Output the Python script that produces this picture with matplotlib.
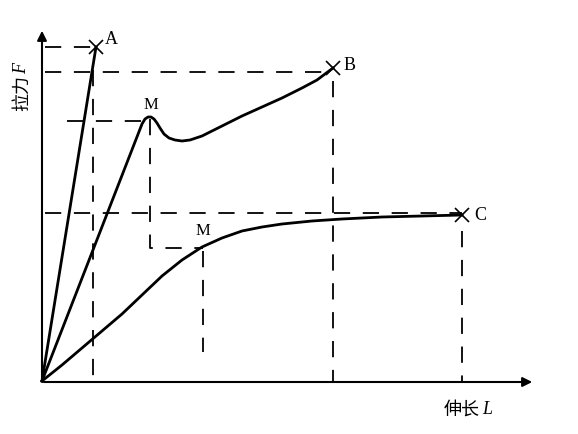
import matplotlib
matplotlib.use("Agg")
import matplotlib.pyplot as plt

# coordinates: x = elongation, y = force (origin at lower-left corner of the axes)
ox, oy = 42, 381

# curve A (brittle): straight line to fracture point
a_x = [0, 54]
a_y = [0, 334]

# curve B: linear rise, yield hump at M, then hardening to fracture at B
b_x = [0, 100, 103, 106, 109, 112, 115, 118, 122, 127, 133, 140, 148, 160, 180, 200,
       220, 240, 260, 275, 291]
b_y = [0, 257, 262, 264, 264, 262, 258, 253, 247, 243, 241, 240, 241, 245, 255, 265,
       274, 283, 293, 301, 313]

# curve C: slow rise, bend at M, flat to fracture at C
c_x = [0, 20, 40, 60, 80, 100, 120, 140, 160, 180, 200, 220, 240, 270, 300, 340, 380, 420]
c_y = [0, 16, 33, 50, 67, 86, 105, 121, 134, 143, 150, 154, 157, 160, 162, 164, 165, 166]

fig = plt.figure(figsize=(5.78, 4.34), dpi=100)
ax = fig.add_axes([0, 0, 1, 1])
ax.set_xlim(-ox, 578 - ox)
ax.set_ylim(-(434 - oy), oy)
ax.axis("off")

dash = dict(color="black", lw=1.3, dashes=(9, 7))

# guide lines
ax.plot([3, 54], [334, 334], **dash)
ax.plot([3, 291], [309, 309], **dash)
ax.plot([25, 108], [260, 260], **dash)
ax.plot([3, 420], [168, 168], **dash)
ax.plot([51, 51], [311, 0], **dash)
ax.plot([108, 108, 161], [262, 133, 133], **dash)
ax.plot([161, 161], [130, 29], **dash)
ax.plot([291, 291], [300, 0], **dash)
ax.plot([420, 420], [150, 0], **dash)

# axes with arrows
ax.annotate("", xy=(0, 353), xytext=(0, -1),
            arrowprops=dict(arrowstyle="-|>", color="black", lw=1.5, mutation_scale=14))
ax.annotate("", xy=(493, -1), xytext=(-1, -1),
            arrowprops=dict(arrowstyle="-|>", color="black", lw=1.5, mutation_scale=14))

# curves
ax.plot(a_x, a_y, color="black", lw=2)
ax.plot(b_x, b_y, color="black", lw=2)
ax.plot(c_x, c_y, color="black", lw=2)
ax.plot([a_x[-1], b_x[-1], c_x[-1]], [a_y[-1], b_y[-1], c_y[-1]],
        ls="none", marker="x", ms=10, mew=1.2, color="black")

serif = "Liberation Serif"
ax.text(63, 342, "A", fontsize=13, family=serif, va="center", ha="left")
ax.text(302, 315, "B", fontsize=13, family=serif, va="center", ha="left")
ax.text(432, 166, "C", fontsize=13, family=serif, va="center", ha="left")
ax.text(109, 276, "M", fontsize=12, family=serif, va="center", ha="center")
ax.text(161, 150, "M", fontsize=12, family=serif, va="center", ha="center")

ax.text(-20, 288, "拉力", fontsize=13, family="Noto Sans CJK SC", rotation=90,
        va="center", ha="center")
ax.text(-20, 313, "F", fontsize=13, family=serif, style="italic", rotation=90,
        va="center", ha="center")
ax.text(420, -29, "伸长", fontsize=13, family="Noto Sans CJK SC", va="center", ha="center")
ax.text(440, -29, "L", fontsize=13, family=serif, style="italic", va="center", ha="left")

fig.savefig("out.png", dpi=100)
